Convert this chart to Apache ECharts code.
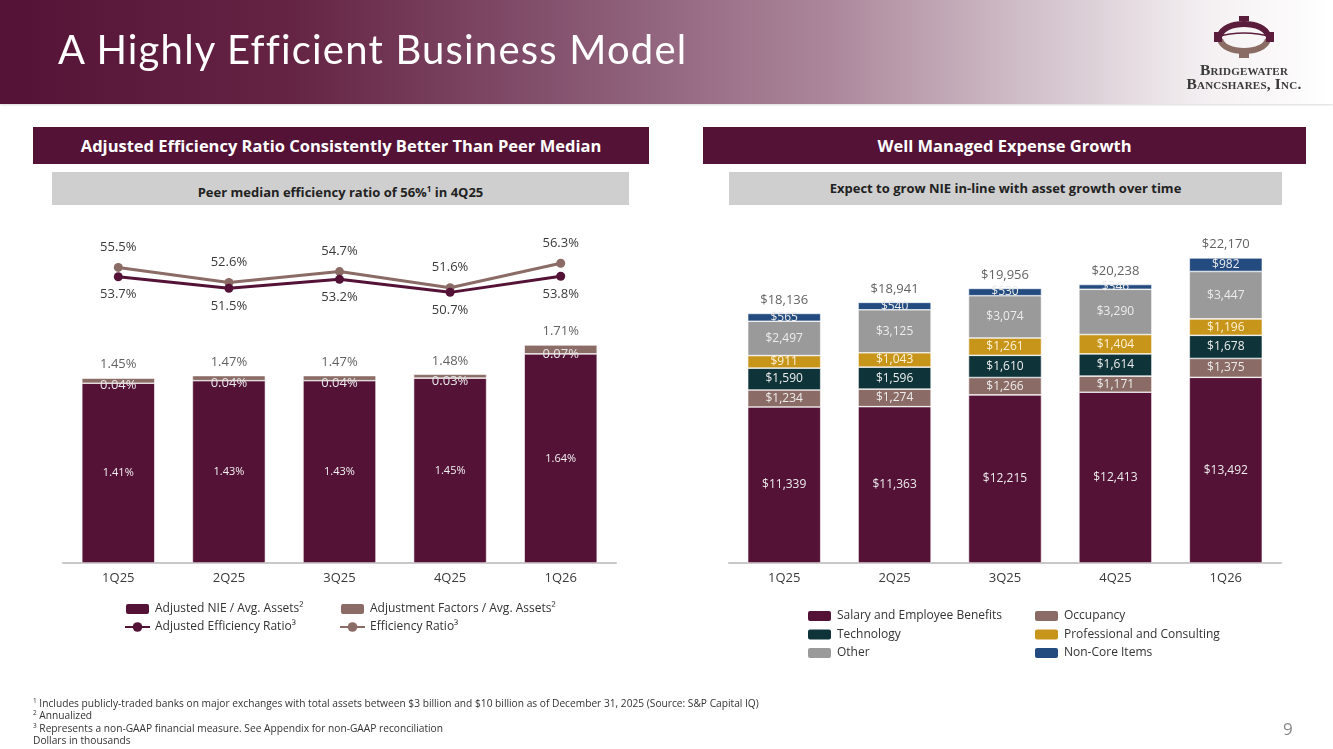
<!DOCTYPE html>
<html>
<head>
<meta charset="utf-8">
<script src="https://cdn.jsdelivr.net/npm/echarts@6/dist/echarts.min.js"></script>
<style>
	html, body { margin: 0; padding: 0; background: #fff; }
	#page { position: relative; width: 1333px; height: 749px; overflow: hidden; font-family: 'Open Sans', sans-serif; }
	#chart { position: absolute; left: 0; top: 0; width: 1333px; height: 749px; }
	.header { position: absolute; left: 0; top: 0; width: 1333px; height: 104px;
		background: linear-gradient(90deg, #541236 0%, #652444 22%, #85536f 42%, #ab869a 62%, #d8cad2 80%, #f5f1f3 91%, #ffffff 100%);
		box-shadow: 0 1px 2px rgba(0,0,0,0.15); }
	.title { position: absolute; left: 58px; top: 25px; color: #fff; font-family: 'Lato', sans-serif; font-size: 40px; letter-spacing: 1.2px; }
	.logo { position: absolute; left: 1166px; top: 15px; width: 156px; text-align: center; }
	.logo svg { display: block; margin: 0 auto; }
	.logo .name { font-family: 'Liberation Serif', serif; font-variant: small-caps; font-weight: 700; color: #3a3a3a; font-size: 15.5px; line-height: 13.5px; letter-spacing: 0.2px; white-space: nowrap; margin-top: 4px; }
	.band { position: absolute; color: #fff; background: #541236; font-weight: 700; font-size: 16.5px; text-align: center; line-height: 37px; height: 37px; top: 127px; }
	.sub { position: absolute; color: #222; background: #cfcfcf; font-weight: 700; font-size: 13px; text-align: center; line-height: 33px; height: 33px; top: 172px; }
	.sub sup { font-size: 8px; }
	.notes { position: absolute; left: 33px; top: 697px; font-size: 10.2px; color: #333; line-height: 12.3px; }
	.notes sup { font-size: 6.5px; line-height: 0; vertical-align: baseline; position: relative; top: -4px; }
	.pnum { position: absolute; left: 1283px; top: 717px; font-size: 17px; color: #888; }
</style>
</head>
<body>
<div id="page">
	<div id="chart"></div>
	<div class="header">
		<div class="title">A Highly Efficient Business Model</div>
		<div class="logo">
			<svg width="66" height="44" viewBox="0 0 66 44">
				<path d="M9 21 C 12 5, 54 5, 57 21" fill="none" stroke="#5a1e3c" stroke-width="6"/>
				<path d="M9 24 C 12 40, 54 40, 57 24" fill="none" stroke="#8b6c64" stroke-width="6"/>
				<path d="M5 22 Q 33 14 61 22" fill="none" stroke="#5a1e3c" stroke-width="1.5"/>
				<rect x="28" y="1" width="10" height="5" fill="#5a1e3c"/>
				<rect x="28" y="38" width="10" height="5" fill="#8b6c64"/>
				<rect x="3" y="17" width="8" height="10" fill="#5a1e3c"/>
				<rect x="55" y="17" width="8" height="10" fill="#5a1e3c"/>
			</svg>
			<div class="name">Bridgewater<br>Bancshares, Inc.</div>
		</div>
	</div>
	<div class="band" style="left:33px;width:616px;">Adjusted Efficiency Ratio Consistently Better Than Peer Median</div>
	<div class="band" style="left:703px;width:603px;">Well Managed Expense Growth</div>
	<div class="sub" style="left:52px;width:577px;">Peer median efficiency ratio of 56%<sup>1</sup> in 4Q25</div>
	<div class="sub" style="left:729px;width:553px;">Expect to grow NIE in-line with asset growth over time</div>
	<div class="notes">
		<sup>1</sup> Includes publicly-traded banks on major exchanges with total assets between $3 billion and $10 billion as of December 31, 2025 (Source: S&amp;P Capital IQ)<br>
		<sup>2</sup> Annualized<br>
		<sup>3</sup> Represents a non-GAAP financial measure. See Appendix for non-GAAP reconciliation<br>
		Dollars in thousands
	</div>
	<div class="pnum">9</div>
</div>
<script>
// quarters shared by both charts
var quarters = ['1Q25', '2Q25', '3Q25', '4Q25', '1Q26'];

// left chart: NIE / avg assets (%) and efficiency ratios (%)
var adjNie = [1.41, 1.43, 1.43, 1.45, 1.64];
var adjFactors = [0.04, 0.04, 0.04, 0.03, 0.07];
var nieTotal = [1.45, 1.47, 1.47, 1.48, 1.71];
var adjEffRatio = [53.7, 51.5, 53.2, 50.7, 53.8];
var effRatio = [55.5, 52.6, 54.7, 51.6, 56.3];

// right chart: noninterest expense, $ thousands
var salary = [11339, 11363, 12215, 12413, 13492];
var occupancy = [1234, 1274, 1266, 1171, 1375];
var technology = [1590, 1596, 1610, 1614, 1678];
var professional = [911, 1043, 1261, 1404, 1196];
var other = [2497, 3125, 3074, 3290, 3447];
var nonCore = [565, 540, 530, 346, 982];
var expenseTotal = [18136, 18941, 19956, 20238, 22170];

var maroon = '#541236';
var taupe = '#8b6b65';
var textDark = '#3a3a3a';
var font = 'Open Sans';

var chart = echarts.init(document.getElementById('chart'));

function pct(p) { return p.value.toFixed(2) + '%'; }
function ratio(p) { return p.value.toFixed(1) + '%'; }
function dollars(p) { return '$' + p.value.toLocaleString('en-US'); }

function stackBar(name, data, color, lblColor) {
	return {
		name: name,
		type: 'bar',
		xAxisIndex: 2,
		yAxisIndex: 2,
		stack: 'nie',
		barWidth: 73,
		data: data,
		itemStyle: { color: color, borderColor: '#fff', borderWidth: 0.6 },
		label: {
			show: true,
			position: 'inside',
			formatter: dollars,
			color: lblColor || '#ececec',
			fontFamily: font,
			fontSize: 12
		}
	};
}

var legendText = { color: '#333', fontSize: 12, fontFamily: font };

var option = {
	animation: false,
	textStyle: { fontFamily: font },
	grid: [
		{ left: 63, width: 553, top: 308, height: 255 },
		{ left: 63, width: 553, top: 244, height: 78 },
		{ left: 729, width: 552, top: 219, height: 344 }
	],
	xAxis: [
		{
			type: 'category', gridIndex: 0, data: quarters,
			axisLine: { lineStyle: { color: '#c8c8c8', width: 2 } },
			axisTick: { show: false },
			axisLabel: { color: textDark, fontSize: 13, margin: 9 }
		},
		{ type: 'category', gridIndex: 1, data: quarters, show: false },
		{
			type: 'category', gridIndex: 2, data: quarters,
			axisLine: { lineStyle: { color: '#c8c8c8', width: 2 } },
			axisTick: { show: false },
			axisLabel: { color: textDark, fontSize: 13, margin: 9 }
		}
	],
	yAxis: [
		{ type: 'value', gridIndex: 0, min: 0, max: 2, show: false, splitLine: { show: false } },
		{ type: 'value', gridIndex: 1, min: 45, max: 60, show: false, splitLine: { show: false } },
		{ type: 'value', gridIndex: 2, min: 0, max: 25000, show: false, splitLine: { show: false } }
	],
	legend: [
		{
			orient: 'vertical', left: 119, top: 597, itemGap: 5, itemWidth: 25, itemHeight: 12,
			textStyle: legendText,
			data: ['Adjusted NIE / Avg. Assets²', 'Adjusted Efficiency Ratio³']
		},
		{
			orient: 'vertical', left: 334, top: 597, itemGap: 5, itemWidth: 25, itemHeight: 12,
			textStyle: legendText,
			data: ['Adjustment Factors / Avg. Assets²', 'Efficiency Ratio³']
		},
		{
			orient: 'vertical', left: 801, top: 604, itemGap: 4.5, itemWidth: 25, itemHeight: 12,
			textStyle: legendText,
			data: ['Salary and Employee Benefits', 'Technology', 'Other']
		},
		{
			orient: 'vertical', left: 1028, top: 604, itemGap: 4.5, itemWidth: 25, itemHeight: 12,
			textStyle: legendText,
			data: ['Occupancy', 'Professional and Consulting', 'Non-Core Items']
		}
	],
	series: [
		{
			name: 'Adjusted NIE / Avg. Assets²',
			type: 'bar', xAxisIndex: 0, yAxisIndex: 0, stack: 'eff', barWidth: 73,
			data: adjNie,
			itemStyle: { color: maroon, borderColor: '#fff', borderWidth: 0.6 },
			label: { show: true, position: 'inside', formatter: pct, color: '#f2f2f2', fontSize: 11 }
		},
		{
			name: 'Adjustment Factors / Avg. Assets²',
			type: 'bar', xAxisIndex: 0, yAxisIndex: 0, stack: 'eff', barWidth: 73,
			data: adjFactors,
			itemStyle: { color: taupe, borderColor: '#fff', borderWidth: 0.6 },
			label: { show: true, position: 'inside', offset: [0, 5], formatter: pct, color: '#e6e6e6', fontSize: 13 }
		},
		{
			name: 'nieTotal',
			type: 'scatter', xAxisIndex: 0, yAxisIndex: 0,
			data: nieTotal, symbolSize: 0, silent: true,
			itemStyle: { color: 'transparent' },
			label: { show: true, position: 'top', distance: 7, formatter: pct, color: textDark, fontSize: 13 }
		},
		{
			name: 'Efficiency Ratio³',
			type: 'line', xAxisIndex: 1, yAxisIndex: 1,
			data: effRatio, symbol: 'circle', symbolSize: 9,
			lineStyle: { color: taupe, width: 3 },
			itemStyle: { color: taupe },
			label: { show: true, position: 'top', distance: 9, formatter: ratio, color: textDark, fontSize: 13 }
		},
		{
			name: 'Adjusted Efficiency Ratio³',
			type: 'line', xAxisIndex: 1, yAxisIndex: 1,
			data: adjEffRatio, symbol: 'circle', symbolSize: 9,
			lineStyle: { color: maroon, width: 3 },
			itemStyle: { color: maroon },
			label: { show: true, position: 'bottom', distance: 7, formatter: ratio, color: textDark, fontSize: 13 }
		},
		stackBar('Salary and Employee Benefits', salary, maroon),
		stackBar('Occupancy', occupancy, taupe),
		stackBar('Technology', technology, '#0e3339'),
		stackBar('Professional and Consulting', professional, '#c8951b', '#fff3d6'),
		stackBar('Other', other, '#9a9a9a'),
		stackBar('Non-Core Items', nonCore, '#234b7f'),
		{
			name: 'expenseTotal',
			type: 'scatter', xAxisIndex: 2, yAxisIndex: 2,
			data: expenseTotal, symbolSize: 0, silent: true,
			itemStyle: { color: 'transparent' },
			label: { show: true, position: 'top', distance: 7, formatter: dollars, color: textDark, fontSize: 13 }
		}
	]
};

chart.setOption(option);
</script>
</body>
</html>
